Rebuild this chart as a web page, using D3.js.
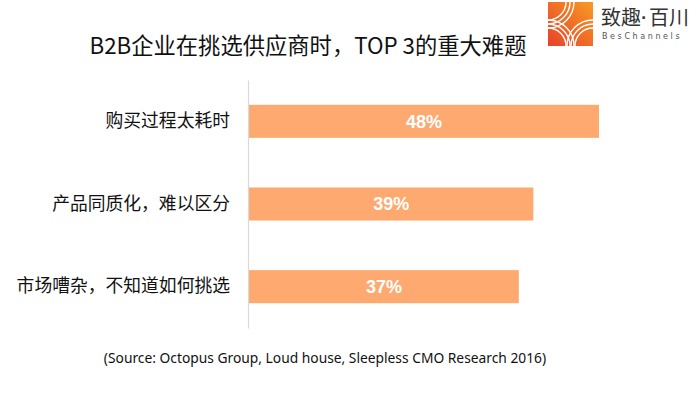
<!DOCTYPE html>
<html>
<head>
<meta charset="utf-8">
<script src="https://cdn.jsdelivr.net/npm/d3@7"></script>
<style>
    body { margin: 0; background: #fff; }
    svg { display: block; }
</style>
</head>
<body>
<div id="chart"></div>
<script>
    const categories = ['购买过程太耗时', '产品同质化，难以区分', '市场嘈杂，不知道如何挑选'];
    const values = [48, 39, 37];
    const titleText = 'B2B企业在挑选供应商时，TOP 3的重大难题';
    const sourceText = '(Source: Octopus Group, Loud house, Sleepless CMO Research 2016)';

    const width = 698;
    const height = 393;
    const margins = { top: 80, bottom: 65, left: 248, right: 60 };
    const cjk = '"Noto Sans CJK SC", "Microsoft YaHei", sans-serif';

    const svg = d3.select('#chart')
        .append('svg')
        .attr('width', width)
        .attr('height', height);

    //scales
    const x = d3.scaleLinear()
        .domain([0, 48])
        .range([0, 350]);

    const y = d3.scaleBand()
        .domain(categories)
        .range([0, height - margins.top - margins.bottom])
        .paddingInner(0.6)
        .paddingOuter(0.3);

    const chart = svg.append('g')
        .attr('transform', `translate(${margins.left},${margins.top})`);

    //bars
    chart.selectAll('rect.bar')
        .data(values)
        .join('rect')
        .classed('bar', true)
        .attr('x', 1)
        .attr('y', (d, i) => y(categories[i]))
        .attr('width', d => x(d))
        .attr('height', y.bandwidth())
        .attr('fill', '#fda96f');

    //value labels
    chart.selectAll('text.value')
        .data(values)
        .join('text')
        .classed('value', true)
        .attr('x', d => 1 + x(d) / 2)
        .attr('y', (d, i) => y(categories[i]) + y.bandwidth() / 2)
        .attr('dy', '0.36em')
        .attr('text-anchor', 'middle')
        .attr('fill', '#fff')
        .style('font-family', '"Liberation Sans", Arial, sans-serif')
        .style('font-weight', 'bold')
        .style('font-size', '18px')
        .text(d => d + '%');

    //axis
    const axis = chart.append('g')
        .call(d3.axisLeft(y).tickSize(0).tickPadding(18));
    axis.select('.domain')
        .attr('stroke', '#d9d9d9')
        .attr('stroke-width', 1.2);
    axis.selectAll('text')
        .attr('fill', '#111')
        .style('font-family', cjk)
        .style('font-size', '17.8px');

    //title
    svg.append('text')
        .attr('x', 308)
        .attr('y', 54)
        .attr('text-anchor', 'middle')
        .attr('fill', '#111')
        .style('font-family', cjk)
        .style('font-size', '22.3px')
        .text(titleText);

    //source
    svg.append('text')
        .attr('x', 325)
        .attr('y', 363)
        .attr('text-anchor', 'middle')
        .attr('fill', '#111')
        .style('font-family', '"Noto Sans", "Open Sans", sans-serif')
        .style('font-size', '13.8px')
        .text(sourceText);

    //logo
    const defs = svg.append('defs');
    const grad = defs.append('linearGradient')
        .attr('id', 'logo-grad')
        .attr('x1', '0%').attr('y1', '100%')
        .attr('x2', '100%').attr('y2', '0%');
    grad.append('stop').attr('offset', '0%').attr('stop-color', '#e8412a');
    grad.append('stop').attr('offset', '100%').attr('stop-color', '#f89a23');
    defs.append('clipPath')
        .attr('id', 'logo-clip')
        .append('rect')
        .attr('width', 45)
        .attr('height', 44);

    const logo = svg.append('g')
        .attr('transform', 'translate(548,2)');
    logo.append('rect')
        .attr('width', 45)
        .attr('height', 44)
        .attr('fill', 'url(#logo-grad)');
    const arcs = logo.append('g').attr('clip-path', 'url(#logo-clip)');
    const centers = [[0, 0], [0, 44], [45, 44]];
    centers.forEach(c => {
        [18, 22, 26].forEach(r => {
            arcs.append('circle')
                .attr('cx', c[0])
                .attr('cy', c[1])
                .attr('r', r)
                .attr('fill', 'none')
                .attr('stroke', '#fff')
                .attr('stroke-width', 1.4);
        });
    });

    const brand = svg.append('g')
        .attr('fill', '#333')
        .style('font-family', cjk)
        .style('font-size', '20px');
    brand.append('text').attr('x', 601).attr('y', 25).text('致趣');
    brand.append('text').attr('x', 641).attr('y', 23).style('font-size', '14px')
        .style('font-weight', 'bold')
        .style('font-family', '"DejaVu Sans", sans-serif').text('·');
    brand.append('text').attr('x', 649).attr('y', 25).text('百川');
    svg.append('text')
        .attr('x', 602)
        .attr('y', 39)
        .attr('fill', '#555')
        .style('font-family', '"DejaVu Sans", sans-serif')
        .style('font-size', '8px')
        .style('letter-spacing', '2.6px')
        .text('BesChannels');
</script>
</body>
</html>
